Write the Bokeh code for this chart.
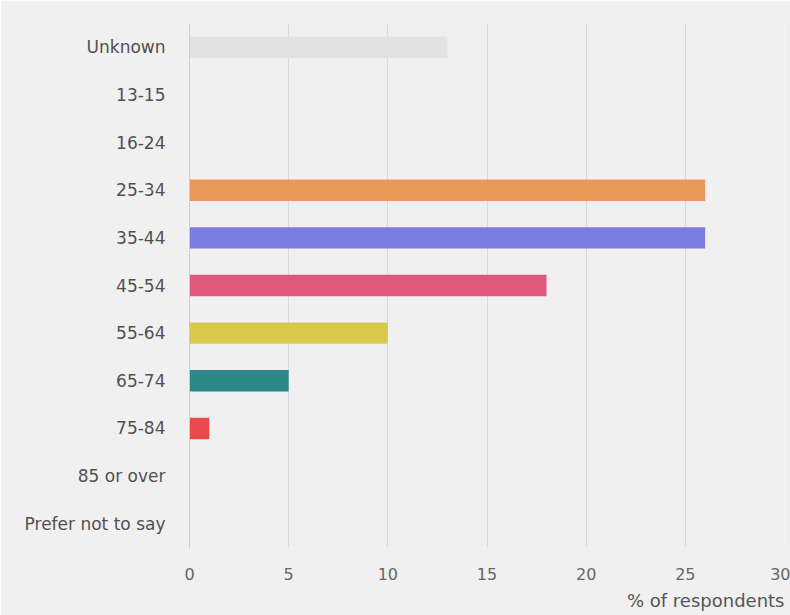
from bokeh.plotting import figure
from bokeh.models import FactorRange, Range1d, Title, ColumnDataSource, FixedTicker
from bokeh.embed import file_html
from bokeh.resources import INLINE

categories = ["Unknown", "13-15", "16-24", "25-34", "35-44", "45-54",
              "55-64", "65-74", "75-84", "85 or over", "Prefer not to say"]
values = [13, 0, 0, 26, 26, 18, 10, 5, 1, 0, 0]
colors = ["#e2e2e2", "#e2e2e2", "#e2e2e2", "#e9985a", "#7a7ee0", "#e0587c",
          "#d9c84e", "#2b898a", "#e84b4b", "#e2e2e2", "#e2e2e2"]
x_ticks = [0, 5, 10, 15, 20, 25, 30]
x_title = "% of respondents"

src = ColumnDataSource(data=dict(cat=categories, val=values, color=colors))

p = figure(y_range=FactorRange(factors=categories[::-1]), x_range=Range1d(0, 30),
           width=790, height=615, output_backend="svg", toolbar_location=None,
           min_border_left=189, min_border_right=6, min_border_top=23, min_border_bottom=66,
           background_fill_color="#f0f0f0", border_fill_color="#f0f0f0")
p.outline_line_color = None

p.hbar(y="cat", left=0, right="val", height=0.45, fill_color="color",
       line_color=None, source=src)

FONT = "DejaVu Sans"
p.xaxis.ticker = FixedTicker(ticks=x_ticks)
p.xaxis.axis_line_color = None
p.xaxis.major_tick_line_color = None
p.xaxis.minor_tick_line_color = None
p.xaxis.major_label_standoff = 14
p.xaxis.major_label_text_font = FONT
p.xaxis.major_label_text_font_size = "16px"
p.xaxis.major_label_text_color = "#666666"

p.yaxis.axis_line_color = "#cccccc"
p.yaxis.major_tick_line_color = None
p.yaxis.minor_tick_line_color = None
p.yaxis.major_label_standoff = 18
p.yaxis.major_label_text_font = FONT
p.yaxis.major_label_text_font_size = "17px"
p.yaxis.major_label_text_color = "#505050"

p.ygrid.grid_line_color = None
p.xgrid.ticker = FixedTicker(ticks=x_ticks)
p.xgrid.grid_line_color = "#d9d9d9"

t = Title(text=x_title, align="right", text_font=FONT, text_font_size="18px",
          text_font_style="normal", text_color="#555555", standoff=10)
p.add_layout(t, "below")

open("out.html", "w").write(file_html(p, INLINE))
